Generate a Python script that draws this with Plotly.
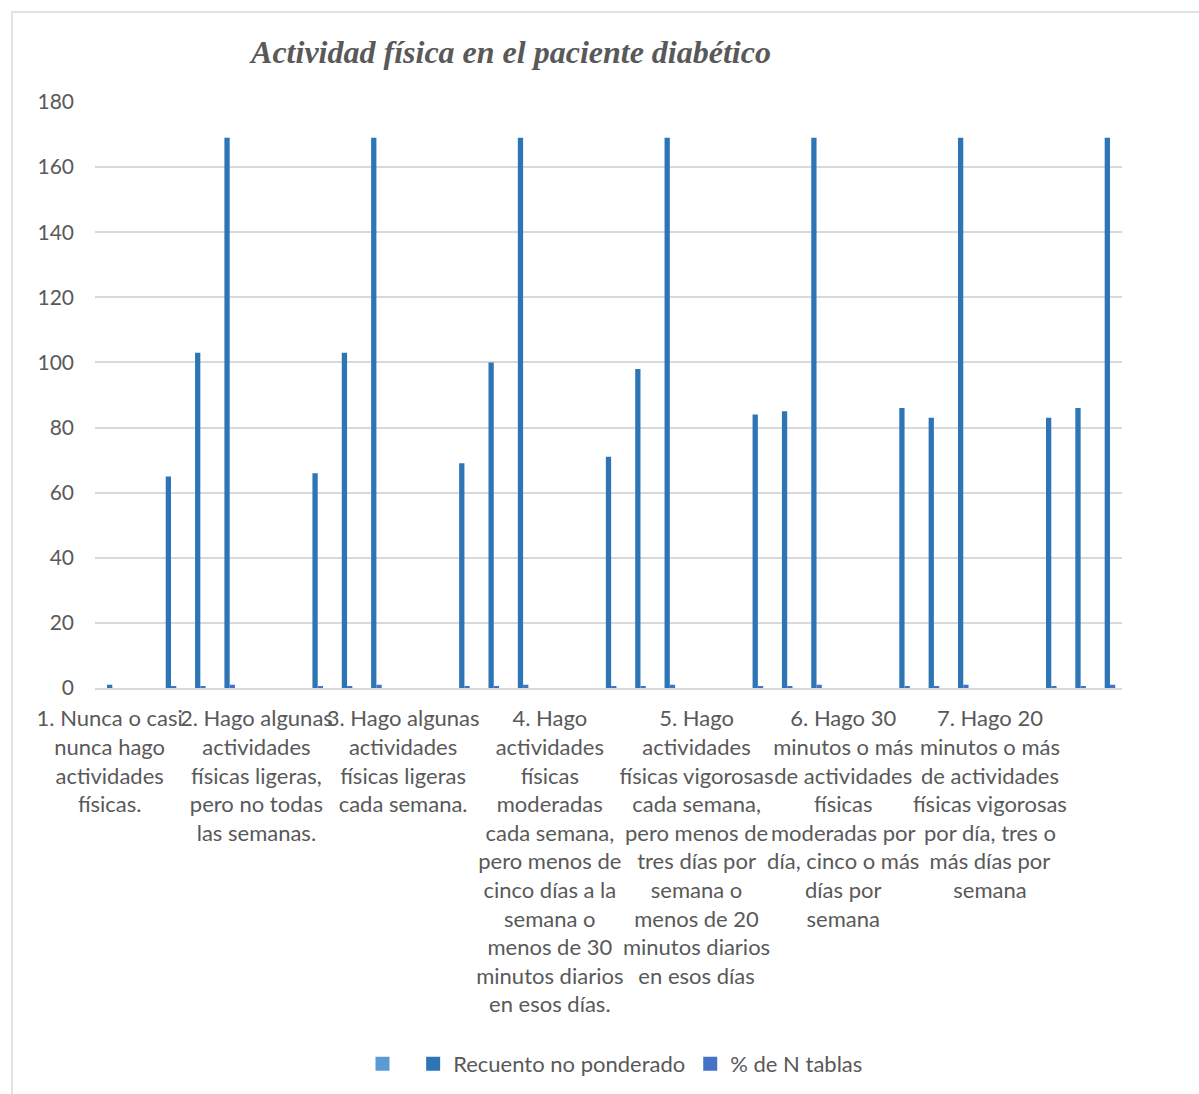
import plotly.graph_objects as go

# 35 category rows (SPSS-style table pasted into Excel); every 5th row carries the item label
n_rows = 35
label_rows = [0, 5, 10, 15, 20, 25, 30]
tick_labels = [
    "1. Nunca o casi<br>nunca hago<br>actividades<br>físicas.",
    "2. Hago algunas<br>actividades<br>físicas ligeras,<br>pero no todas<br>las semanas.",
    "3. Hago algunas<br>actividades<br>físicas ligeras<br>cada semana.",
    "4. Hago<br>actividades<br>físicas<br>moderadas<br>cada semana,<br>pero menos de<br>cinco días a la<br>semana o<br>menos de 30<br>minutos diarios<br>en esos días.",
    "5. Hago<br>actividades<br>físicas vigorosas<br>cada semana,<br>pero menos de<br>tres días por<br>semana o<br>menos de 20<br>minutos diarios<br>en esos días",
    "6. Hago 30<br>minutos o más<br>de actividades<br>físicas<br>moderadas por<br>día, cinco o más<br>días por<br>semana",
    "7. Hago 20<br>minutos o más<br>de actividades<br>físicas vigorosas<br>por día, tres o<br>más días por<br>semana",
]

rows = list(range(n_rows))

serie_vacia = [None] * n_rows

recuento = [1, None, 65, 103, 169,
            None, None, 66, 103, 169,
            None, None, 69, 100, 169,
            None, None, 71, 98, 169,
            None, None, 84, 85, 169,
            None, None, 86, 83, 169,
            None, None, 83, 86, 169]

pct_n_tablas = [None, None, 0.38, 0.61, 1.0,
                None, None, 0.39, 0.61, 1.0,
                None, None, 0.41, 0.59, 1.0,
                None, None, 0.42, 0.58, 1.0,
                None, None, 0.50, 0.50, 1.0,
                None, None, 0.51, 0.49, 1.0,
                None, None, 0.49, 0.51, 1.0]

series_names = [" ", "Recuento no ponderado", "% de N tablas"]
series_colors = ["#5B9BD5", "#2E75B6", "#4472C4"]
series_values = [serie_vacia, recuento, pct_n_tablas]

bar_w = 0.18
offsets = [-0.27, -0.09, 0.09]

fig = go.Figure()
for name, color, vals, off in zip(series_names, series_colors, series_values, offsets):
    fig.add_trace(go.Bar(
        x=rows, y=vals, name=name, legendgroup=name,
        marker=dict(color=color, line=dict(width=0)),
        width=bar_w, offset=off, showlegend=False,
    ))
    # legend entry with larger square swatch
    fig.add_trace(go.Scatter(
        x=[None], y=[None], mode="markers", name=name, legendgroup=name,
        marker=dict(symbol="square", size=14, color=color),
        showlegend=True,
    ))

FONT = "Lato"
GRAY = "#595959"
GRID = "#D9D9D9"

L, R, T, B = 95, 77, 102, 406
W, H = 1199, 1094
ph = H - T - B
pw = W - L - R

fig.update_layout(
    width=W, height=H,
    margin=dict(l=L, r=R, t=T, b=B, pad=0),
    paper_bgcolor="white", plot_bgcolor="white",
    barmode="overlay",
    title=dict(
        text="<b><i>Actividad física en el paciente diabético</i></b>",
        font=dict(family="Liberation Serif", size=32, color=GRAY),
        x=511 / W, xref="container", xanchor="center",
        y=1 - 52 / H, yref="container", yanchor="middle",
    ),
    font=dict(family=FONT, color=GRAY, size=20),
    legend=dict(
        orientation="h", x=615 / W, xref="container", xanchor="center",
        y=1 - 1064 / H, yref="container", yanchor="middle",
        font=dict(family=FONT, size=22, color=GRAY),
        traceorder="normal",
    ),
    showlegend=True,
)

fig.update_xaxes(
    range=[-0.5, n_rows - 0.5],
    tickmode="array", tickvals=label_rows, ticktext=tick_labels,
    tickangle=0,
    tickfont=dict(family=FONT, size=22, color=GRAY),
    showgrid=False, zeroline=False,
    showline=True, linecolor=GRID, linewidth=2,
    ticks="", ticklabelstandoff=10,
)
fig.update_yaxes(
    range=[0, 180], dtick=20, tick0=0,
    tickfont=dict(family=FONT, size=21, color=GRAY),
    showgrid=True, gridcolor=GRID, gridwidth=1.5,
    zeroline=False, showline=False, ticks="",
    ticklabelstandoff=20,
)

# chart frame border (Excel chart area)
fig.add_shape(type="rect", xref="paper", yref="paper",
              x0=(12 - L) / pw, x1=(W + 10 - L) / pw,
              y0=(H - B - (H + 10)) / ph, y1=(H - B - 12) / ph,
              line=dict(color=GRID, width=1.5), fillcolor="rgba(0,0,0,0)", layer="below")

fig.write_html("out.html")
